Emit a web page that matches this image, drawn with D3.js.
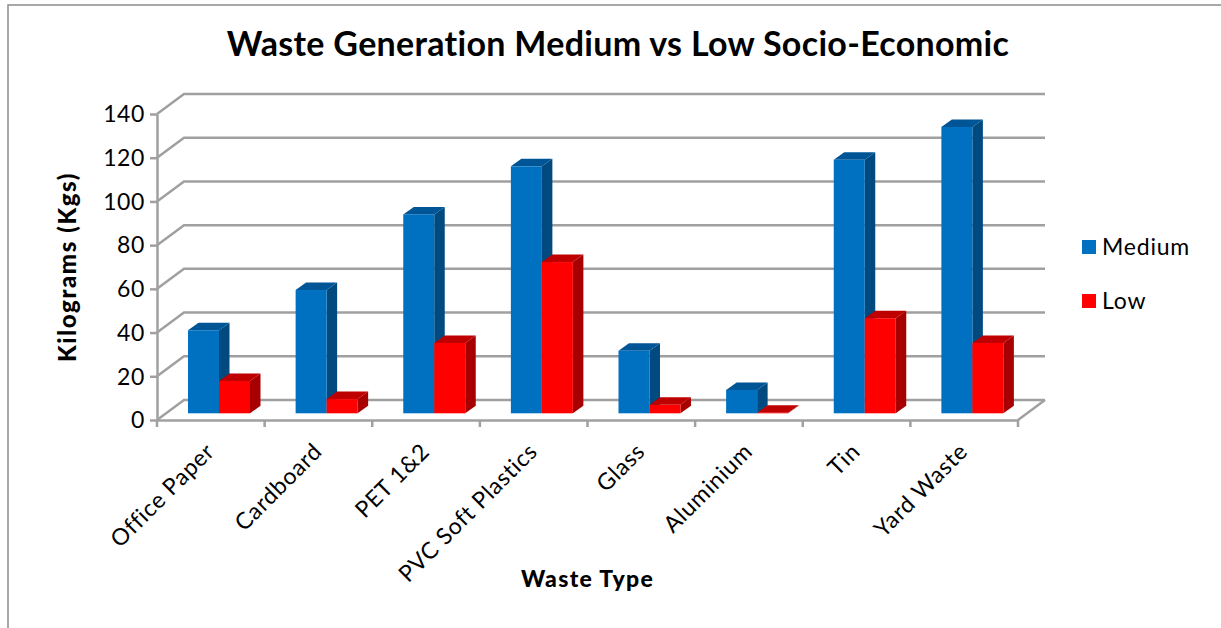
<!DOCTYPE html>
<html>
<head>
<meta charset="utf-8">
<script src="https://cdn.jsdelivr.net/npm/d3@7/dist/d3.min.js"></script>
<style>
html,body{margin:0;padding:0;background:#fff;overflow:hidden}
svg{display:block}
text{font-family:Lato,"Open Sans",sans-serif;fill:#000}
</style>
</head>
<body>
<svg id="chart" width="1221" height="628"></svg>
<script>
// Waste generation per type for two socio-economic groups
const categories = ["Office Paper","Cardboard","PET 1&2","PVC Soft Plastics","Glass","Aluminium","Tin","Yard Waste"];
const medium = [38,56.4,91,113,28.6,10.7,116,131];
const low = [14.8,6.5,32.2,69.2,3.9,0.3,43.5,32.2];
const yTicks = [0,20,40,60,80,100,120,140];
const seriesNames = ["Medium","Low"];

const faces = {
  Medium:{front:"#0070C0",top:"#005596",side:"#004A80"},
  Low:{front:"#FF0000",top:"#BE0000",side:"#A80000"}
};
const grid = "#a0a0a0";

// Projection of the oblique 3D box
const depth = {x:27,y:-20};
const barDepth = {x:10.5,y:-7.5};
const plot = {left:157,right:1018,bottom:420,top:114};
const floorInset = 6.7;

const svg = d3.select("#chart");

// Frame of the chart area: top and left edges only
svg.append("path").attr("d","M1221,5H8V628").attr("fill","none")
  .attr("stroke","#8c8c8c").attr("stroke-width",1.5);

const y = d3.scaleLinear().domain([0,140]).range([plot.bottom,plot.top]);
const x = d3.scaleBand().domain(categories).range([plot.left,plot.right]);
const inner = d3.scaleBand().domain(seriesNames).range([31,93]);

// Back wall gridlines with their side-wall returns
const wall = svg.append("g").attr("fill","none").attr("stroke",grid).attr("stroke-width",2.5);
wall.selectAll("path").data(yTicks).join("path")
  .attr("d",t=>`M${plot.left},${y(t)}L${plot.left+depth.x},${y(t)+depth.y}H${plot.right+depth.x}`);
wall.append("path")
  .attr("d",`M${plot.right},${plot.bottom}L${plot.right+depth.x},${plot.bottom+depth.y}`);

// Axes
const axisY = d3.axisLeft(y).tickValues(yTicks).tickSize(7).tickSizeOuter(0).tickPadding(5);
const axisX = d3.axisBottom(x).tickValues([]).tickSizeOuter(0);

const gy = svg.append("g").attr("transform",`translate(${plot.left},0)`).call(axisY);
gy.selectAll("path,line").attr("stroke",grid).attr("stroke-width",2.5);
gy.selectAll("text").attr("font-size",23).attr("letter-spacing",0.6)
  .style("font-family","Lato,sans-serif").attr("dy","0.34em");

const gx = svg.append("g").attr("transform",`translate(0,${plot.bottom})`).call(axisX);
gx.selectAll("path").attr("stroke",grid).attr("stroke-width",2.5);
gx.selectAll(".boundary").data(d3.range(categories.length+1)).join("line")
  .attr("class","boundary")
  .attr("x1",i=>plot.left+i*x.bandwidth()).attr("x2",i=>plot.left+i*x.bandwidth())
  .attr("y1",0).attr("y2",7).attr("stroke",grid).attr("stroke-width",2.5);

// Rotated category labels, anchored at the end under each group
svg.append("g").selectAll("text").data(categories).join("text")
  .attr("text-anchor","end").attr("font-size",23).attr("letter-spacing",0.7)
  .attr("transform",d=>`translate(${x(d)+x.bandwidth()/2+5},${plot.bottom+33}) rotate(-45)`)
  .text(d=>d);

// Bars: front, top and side faces
const floor = plot.bottom - floorInset;
const scaleH = v => y(0)-y(v);
const rows = seriesNames.flatMap((s,k)=>{
  const values = k===0?medium:low;
  return categories.map((c,i)=>({s,c,v:values[i]}));
});
// Paint back to front so that the red bar covers the blue side face
const bars = svg.append("g").selectAll("g").data(rows).join("g");
bars.each(function(d){
  const g = d3.select(this), w = inner.bandwidth();
  const x0 = x(d.c)+inner(d.s), x1 = x0+w, top = floor-scaleH(d.v);
  const f = faces[d.s], dx = barDepth.x, dy = barDepth.y;
  g.append("path").attr("fill",f.side)
    .attr("d",`M${x1},${floor}L${x1+dx},${floor+dy}V${top+dy}L${x1},${top}Z`);
  g.append("path").attr("fill",f.top)
    .attr("d",`M${x0},${top}L${x0+dx},${top+dy}H${x1+dx}L${x1},${top}Z`);
  g.append("rect").attr("x",x0).attr("y",top).attr("width",w).attr("height",floor-top)
    .attr("fill",f.front);
});

// Titles
svg.append("text").attr("x",618).attr("y",56).attr("text-anchor","middle")
  .attr("font-size",34).attr("font-weight",700).attr("letter-spacing",0.3)
  .text("Waste Generation Medium vs Low Socio-Economic");
svg.append("text").attr("x",587.5).attr("y",587).attr("text-anchor","middle")
  .attr("font-size",23).attr("font-weight",900).attr("letter-spacing",1.3)
  .text("Waste Type");
svg.append("text").attr("transform","translate(76,267) rotate(-90)").attr("text-anchor","middle")
  .attr("font-size",24).attr("font-weight",900).attr("letter-spacing",1.6)
  .text("Kilograms (Kgs)");

// Legend
const legendY = d3.scalePoint().domain(seriesNames).range([247,301]);
const legend = svg.append("g").selectAll("g").data(seriesNames).join("g")
  .attr("transform",d=>`translate(1082,${legendY(d)})`);
legend.append("rect").attr("y",-7).attr("width",14).attr("height",14).attr("fill",d=>faces[d].front);
legend.append("text").attr("x",20).attr("dy","0.36em").attr("font-size",23).attr("letter-spacing",0.8).text(d=>d);
</script>
</body>
</html>
